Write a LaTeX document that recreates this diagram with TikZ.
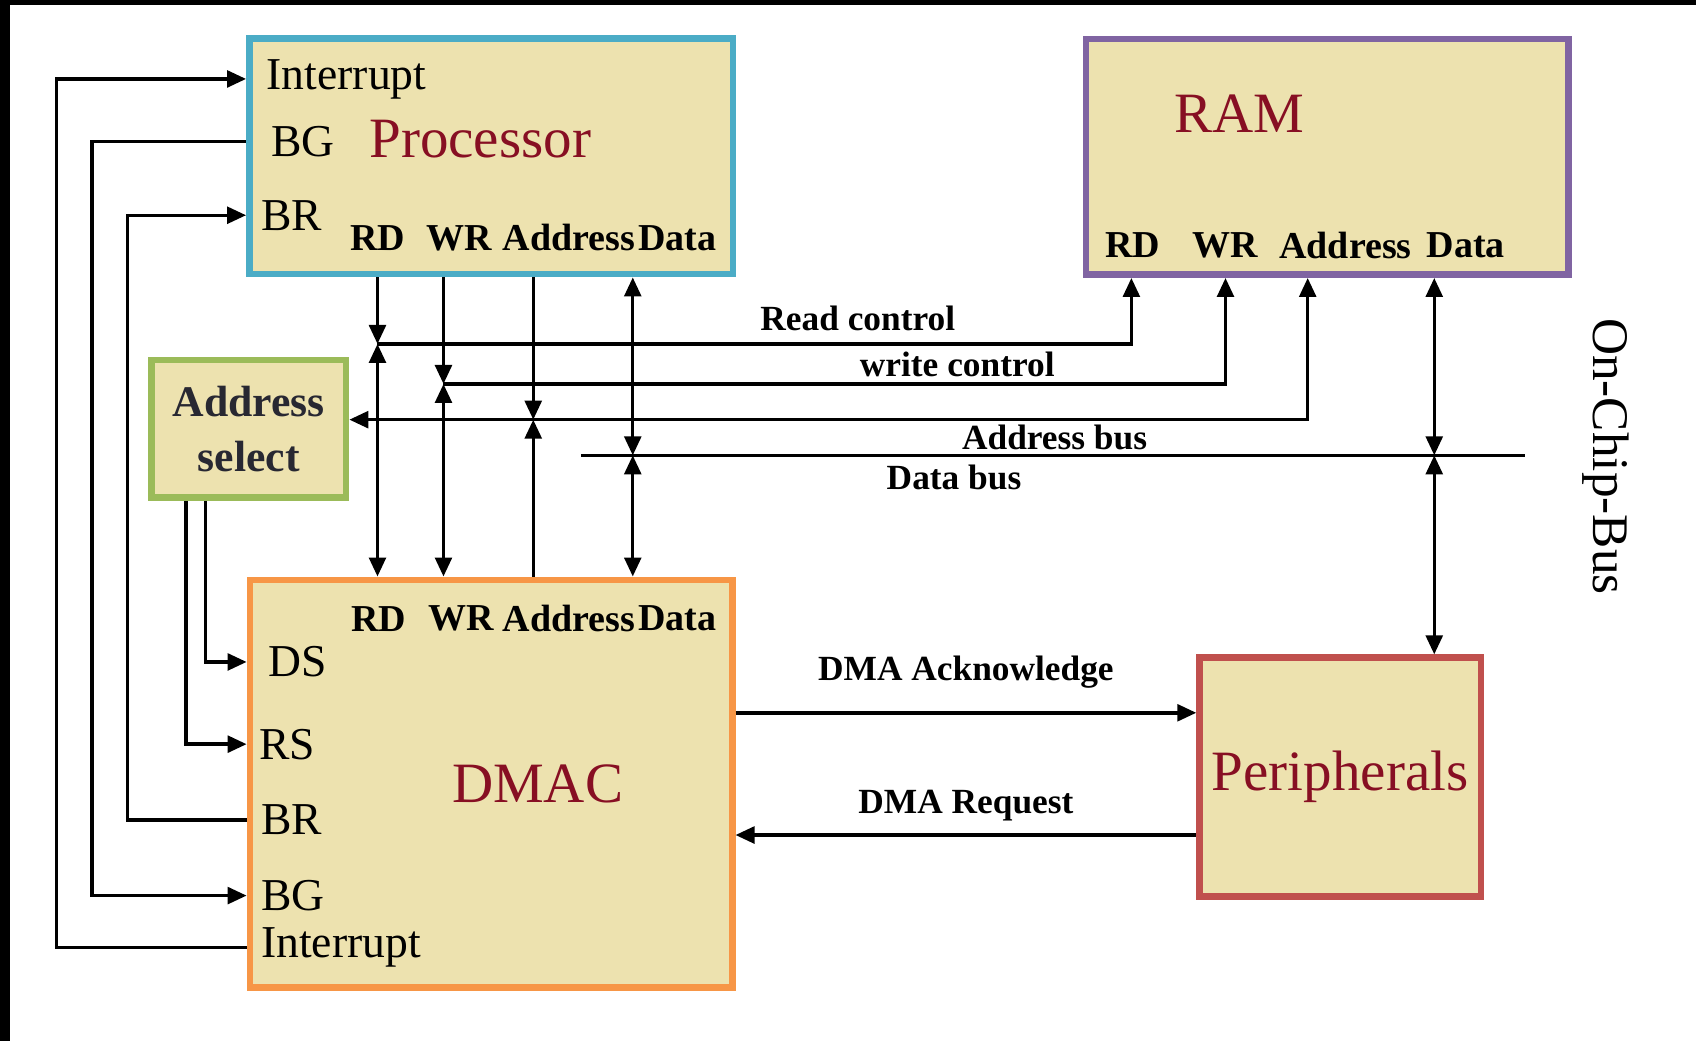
\documentclass[tikz,border=0pt]{standalone}
\usepackage{fontspec}
\setmainfont{Liberation Serif}
\usetikzlibrary{positioning,arrows.meta,calc}
\definecolor{boxfill}{RGB}{237,226,175}
\definecolor{procblue}{RGB}{75,172,198}
\definecolor{rampurple}{RGB}{128,100,162}
\definecolor{selgreen}{RGB}{155,187,89}
\definecolor{dmacorange}{RGB}{247,150,70}
\definecolor{perired}{RGB}{192,80,77}
\definecolor{titlered}{RGB}{135,15,35}
\begin{document}
\begin{tikzpicture}[>={Triangle[length=5pt,width=4.4pt]}, line width=0.9pt,
  unit/.style={draw=#1,fill=boxfill,line width=1.7pt,inner sep=0pt},
  title/.style={text=titlered,font=\fontsize{15}{18}\selectfont,inner sep=0pt},
  port/.style={font=\fontsize{10}{12}\selectfont\bfseries,inner sep=0pt},
  pin/.style={font=\fontsize{12}{14}\selectfont,anchor=west,inner sep=0pt},
  bus/.style={font=\fontsize{9.3}{11}\selectfont\bfseries,inner sep=0pt}]
  \useasboundingbox (0,0) rectangle (15.68,-9.62);
  \fill[black] (0,0) rectangle (15.68,-0.05); \fill[black] (0,0) rectangle (0.09,-9.62);
  \node[unit=procblue,minimum width=4.47cm,minimum height=2.18cm] (proc) at (4.54,-1.445) {};
  \node[unit=rampurple,minimum width=4.46cm,minimum height=2.18cm] (ram) at (12.27,-1.45) {};
  \node[unit=selgreen,minimum width=1.80cm,minimum height=1.27cm,align=center,text={rgb,255:red,40;green,40;blue,50},font=\fontsize{11.5}{14.5}\selectfont\bfseries] (asel) at (2.30,-3.965) {Address\\select};
  \node[unit=dmacorange,minimum width=4.46cm,minimum height=3.77cm] (dmac) at (4.54,-7.245) {};
  \node[unit=perired,minimum width=2.60cm,minimum height=2.21cm,title] (peri) at (12.39,-7.185) {Peripherals};
  \node[title] (ptitle) at (4.44,-1.29) {Processor};
  \node[title] (rtitle) at (11.46,-1.05) {RAM};
  \node[title] (dtitle) at (4.97,-7.25) {DMAC};
  \node[pin] (pint) at (2.45,-0.73) {Interrupt};
  \node[pin] (pbg) at (2.49,-1.31) {BG};
  \node[pin] (pbr) at (2.40,-1.99) {BR};
  \node[pin] (dds) at (2.47,-6.12) {DS};
  \node[pin] (drs) at (2.38,-6.88) {RS};
  \node[pin] (dbr) at (2.40,-7.58) {BR};
  \node[pin] (dbg) at (2.40,-8.28) {BG};
  \node[pin] (dint) at (2.40,-8.76) {Interrupt};
  \foreach \t/\x in {RD/3.49,WR/4.25,Address/5.26,Data/6.26} \node[port] (p\t) at (\x,-2.20) {\t};
  \foreach \t/\x in {RD/3.50,WR/4.26,Address/5.26,Data/6.26} \node[port] (d\t) at (\x,-5.72) {\t};
  \foreach \t/\x in {RD/10.47,WR/11.33,Address/12.44,Data/13.55} \node[port] (r\t) at (\x,-2.27) {\t};
  \coordinate (l1) at (0.52,0); \coordinate (l2) at (0.85,0); \coordinate (l3) at (1.18,0);
  \coordinate (l4) at (1.72,0); \coordinate (l5) at (1.90,0);
  \draw[->] (dmac.west |- dint) -| (l1 |- pint) -- (proc.west |- pint);
  \draw[->] (proc.west |- pbg) -| (l2 |- dbg) -- (dmac.west |- dbg);
  \draw[->] (dmac.west |- dbr) -| (l3 |- pbr) -- (proc.west |- pbr);
  \draw[->] (asel.south -| l5) |- (dmac.west |- dds);
  \draw[->] (asel.south -| l4) |- (dmac.west |- drs);
  \coordinate (rc) at (3.49,-3.18); \coordinate (wc) at (4.10,-3.55);
  \coordinate (ab) at (4.93,-3.88); \coordinate (db) at (5.85,-4.21);
  \coordinate (rrd) at (10.46,0); \coordinate (rwr) at (11.33,0); \coordinate (rab) at (12.09,0);
  \coordinate (rdb) at (13.26,-4.21); \coordinate (dbl) at (5.37,-4.21); \coordinate (dbr) at (14.10,-4.21);
  \foreach \j in {rc,wc} {\draw[->] (proc.south -| \j) -- (\j); \draw[<->] (\j) -- (dmac.north -| \j);}
  \draw[->] (proc.south -| ab) -- (ab); \draw[->] (dmac.north -| ab) -- (ab);
  \draw[<->] (proc.south -| db) -- (db); \draw[<->] (db) -- (dmac.north -| db);
  \draw[->] (rc) -| (ram.south -| rrd);
  \draw[->] (wc) -| (ram.south -| rwr);
  \draw[<->] (asel.east |- ab) -| (ram.south -| rab);
  \draw (dbl) -- (dbr);
  \draw[<->] (ram.south -| rdb) -- (rdb); \draw[<->] (rdb) -- (peri.north -| rdb);
  \node[bus] (rdctl) at (7.93,-2.94) {Read control};
  \node[bus] (wrctl) at (8.85,-3.37) {write control};
  \node[bus] (abus) at (9.75,-4.04) {Address bus};
  \node[bus] (dbus) at (8.82,-4.41) {Data bus};
  \node[font=\fontsize{13.5}{16}\selectfont,rotate=-90,inner sep=0pt] (ocb) at (14.85,-4.22) {On-Chip-Bus};
  \coordinate (ack) at (0,-6.59); \coordinate (req) at (0,-7.72);
  \draw[->] (dmac.east |- ack) -- (peri.west |- ack) node[bus,midway,above=0.21] (ackl) {DMA Acknowledge};
  \draw[<-] (dmac.east |- req) -- (peri.west |- req) node[bus,midway,above=0.11] (reql) {DMA Request};
\end{tikzpicture}
\end{document}
